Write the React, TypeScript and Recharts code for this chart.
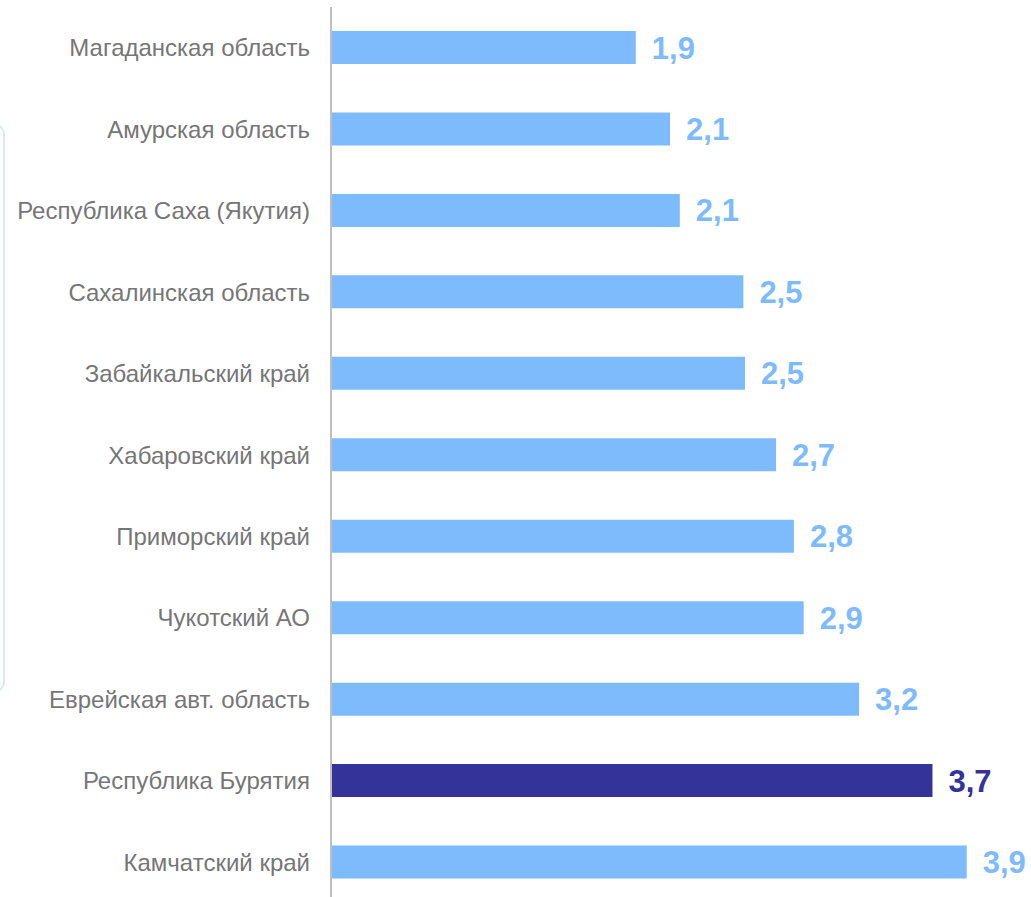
import { BarChart, Bar, XAxis, YAxis, Cell, LabelList } from 'recharts';

const regions = [
  'Магаданская область',
  'Амурская область',
  'Республика Саха (Якутия)',
  'Сахалинская область',
  'Забайкальский край',
  'Хабаровский край',
  'Приморский край',
  'Чукотский АО',
  'Еврейская авт. область',
  'Республика Бурятия',
  'Камчатский край',
];

const values = [1.87, 2.08, 2.14, 2.53, 2.54, 2.73, 2.84, 2.9, 3.24, 3.69, 3.9];

const highlight = 'Республика Бурятия';

const LIGHT = '#7dbbfd';
const DARK = '#333399';
const FONT = '"Liberation Sans", Arial, sans-serif';

const data = regions.map((name, i) => ({ name, value: values[i] }));

const fmt = (v: number) => v.toFixed(1).replace('.', ',');

function ValueLabel(props: any) {
  const { x, y, width, height, value, index } = props;
  const color = regions[index] === highlight ? DARK : LIGHT;
  return (
    <text
      x={x + width + 16}
      y={y + height / 2}
      dy={11}
      fill={color}
      fontSize={31}
      fontWeight="bold"
      fontFamily={FONT}
    >
      {fmt(value)}
    </text>
  );
}

export default function App() {
  return (
    <div style={{ position: 'absolute', left: 0, top: 0, width: 1031, height: 897, overflow: 'hidden', background: '#fff' }}>
      <div
        style={{
          position: 'absolute',
          left: -20,
          top: 124,
          width: 21,
          height: 564,
          border: '2px solid #d6eafd',
          borderRadius: 10,
        }}
      />
      <BarChart
        width={1031}
        height={905}
        data={data}
        layout="vertical"
        margin={{ top: 7, right: 48, bottom: 2, left: 0 }}
        barCategoryGap={0}
      >
        <XAxis type="number" domain={[0, 4]} hide />
        <YAxis
          type="category"
          dataKey="name"
          width={331}
          tickLine={false}
          tickSize={0}
          tickMargin={21}
          axisLine={{ stroke: '#bfbfbf', strokeWidth: 2 }}
          tick={{ fontSize: 24, fill: '#767676', fontFamily: FONT }}
          interval={0}
        />
        <Bar dataKey="value" barSize={33} isAnimationActive={false}>
          {data.map((d) => (
            <Cell key={d.name} fill={d.name === highlight ? DARK : LIGHT} />
          ))}
          <LabelList dataKey="value" content={ValueLabel} />
        </Bar>
      </BarChart>
    </div>
  );
}
